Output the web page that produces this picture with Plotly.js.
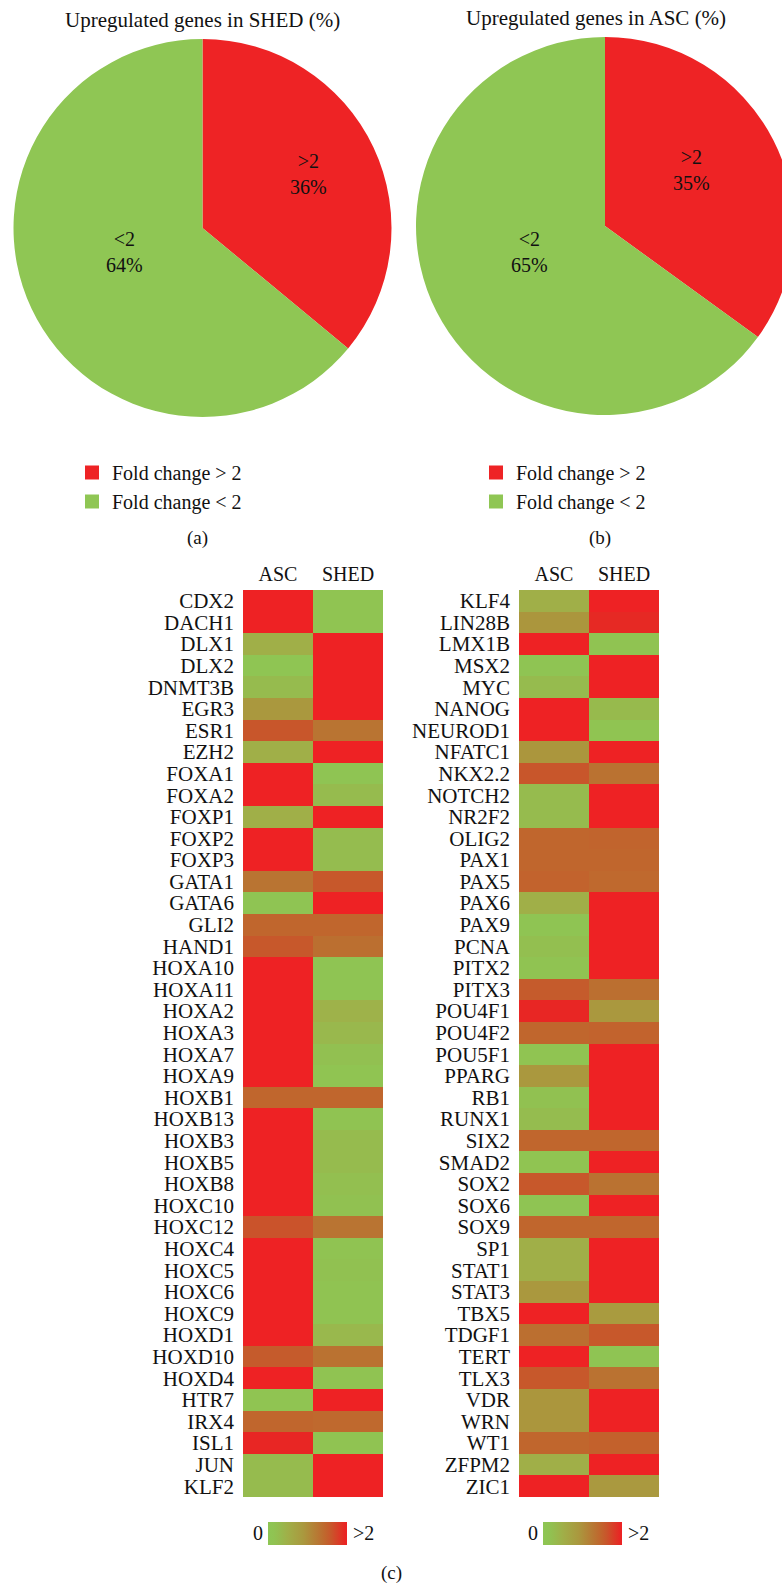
<!DOCTYPE html>
<html>
<head>
<meta charset="utf-8">
<script src="https://cdn.plot.ly/plotly-3.0.1.min.js"></script>
<style>
html, body { margin: 0; padding: 0; overflow: hidden; background: #fff; }
#chart { width: 800px; height: 1585px; }
</style>
</head>
<body>
<div id="chart"></div>
<script>
// ---------- DATA ----------
const pieLabels = ['Fold change > 2', 'Fold change < 2'];
const pieShort = ['>2', '<2'];
const shedPct = [36, 64];
const ascPct = [35, 65];

const conditions = ['ASC', 'SHED'];

const genesLeft = ['CDX2','DACH1','DLX1','DLX2','DNMT3B','EGR3','ESR1','EZH2','FOXA1','FOXA2',
  'FOXP1','FOXP2','FOXP3','GATA1','GATA6','GLI2','HAND1','HOXA10','HOXA11','HOXA2',
  'HOXA3','HOXA7','HOXA9','HOXB1','HOXB13','HOXB3','HOXB5','HOXB8','HOXC10','HOXC12',
  'HOXC4','HOXC5','HOXC6','HOXC9','HOXD1','HOXD10','HOXD4','HTR7','IRX4','ISL1','JUN','KLF2'];
const ascLeft = [2,2,0.5,0.05,0.3,0.9,1.6,0.5,2,2,
  0.5,2,2,1.3,0.08,1.45,1.58,2,2,2,
  2,2,2,1.45,2,2,2,2,2,1.62,
  2,2,2,2,2,1.55,2,0.12,1.45,1.95,0.3,0.3];
const shedLeft = [0.12,0.12,2,2,2,2,1.3,2,0.08,0.3,
  2,0.28,0.28,1.58,2,1.45,1.35,0.1,0.1,0.45,
  0.35,0.2,0.12,1.45,0.15,0.3,0.3,0.22,0.18,1.3,
  0.15,0.18,0.15,0.15,0.35,1.32,0.15,2,1.42,0.15,2,2];

const genesRight = ['KLF4','LIN28B','LMX1B','MSX2','MYC','NANOG','NEUROD1','NFATC1','NKX2.2','NOTCH2',
  'NR2F2','OLIG2','PAX1','PAX5','PAX6','PAX9','PCNA','PITX2','PITX3','POU4F1',
  'POU4F2','POU5F1','PPARG','RB1','RUNX1','SIX2','SMAD2','SOX2','SOX6','SOX9',
  'SP1','STAT1','STAT3','TBX5','TDGF1','TERT','TLX3','VDR','WRN','WT1','ZFPM2','ZIC1'];
const ascRight = [0.5,0.92,2,0.08,0.3,2,2,0.92,1.6,0.3,
  0.3,1.45,1.45,1.48,0.5,0.1,0.22,0.15,1.55,1.95,
  1.45,0.12,0.9,0.18,0.28,1.45,0.12,1.58,0.1,1.45,
  0.5,0.5,0.9,2,1.35,2,1.58,0.92,0.92,1.45,0.5,2];
const shedRight = [2,1.93,0.15,2,2,0.32,0.12,2,1.32,2,
  2,1.47,1.45,1.42,2,2,2,2,1.35,0.9,
  1.48,2,2,2,2,1.45,2,1.32,2,1.45,
  2,2,2,0.85,1.58,0.1,1.32,2,2,1.5,2,0.88];

const scaleTicks = ['0', '>2'];

// ---------- STYLE / LAYOUT ----------
const W = 800, H = 1585;
const px = x => x / W;
const py = y => 1 - y / H;
const FONT = '"Liberation Serif", "Times New Roman", serif';
const RED = 'rgb(238,35,37)';
const GREEN = 'rgb(143,198,84)';
const TXT = '#111111';

const cscale = [
  [0, 'rgb(142,198,84)'],
  [0.075, 'rgb(144,195,82)'],
  [0.15, 'rgb(150,187,78)'],
  [0.25, 'rgb(160,175,72)'],
  [0.45, 'rgb(170,152,62)'],
  [0.65, 'rgb(185,116,50)'],
  [0.725, 'rgb(192,102,45)'],
  [0.8, 'rgb(200,86,43)'],
  [0.975, 'rgb(232,38,36)'],
  [1, 'rgb(238,34,36)']
];

const zip = (a, b) => a.map((v, i) => [v, b[i]]);

const pieCommon = {
  type: 'pie',
  labels: pieLabels,
  textinfo: 'none',
  marker: {colors: [RED, GREEN], line: {width: 0}},
  sort: false,
  direction: 'clockwise',
  rotation: 0,
  hoverinfo: 'none',
  showlegend: false
};

const legendTrace = (i, leg) => ({
  type: 'scatter', mode: 'markers', x: [null], y: [null], xaxis: 'x', yaxis: 'y',
  name: pieLabels[i], legend: leg, showlegend: true, hoverinfo: 'none',
  marker: {symbol: 'square', size: 14, color: [RED, GREEN][i], line: {width: 0}}
});

const traces = [
  Object.assign({}, pieCommon, {
    values: shedPct,
    domain: {x: [px(13.5), px(391.5)], y: [py(417), py(39)]}
  }),
  Object.assign({}, pieCommon, {
    values: ascPct,
    domain: {x: [px(416), px(794)], y: [py(415), py(37)]}
  }),
  {
    type: 'heatmap',
    x: conditions, y: genesLeft, z: zip(ascLeft, shedLeft),
    xaxis: 'x', yaxis: 'y',
    zmin: 0, zmax: 2, colorscale: cscale,
    hoverinfo: 'none',
    showscale: true,
    colorbar: {orientation: 'h', x: px(268), xanchor: 'left', y: py(1545), yanchor: 'bottom',
      len: 79, lenmode: 'pixels', thickness: 23, thicknessmode: 'pixels',
      outlinewidth: 0, showticklabels: false, ticks: '', xpad: 0, ypad: 0}
  },
  {
    type: 'heatmap',
    x: conditions, y: genesRight, z: zip(ascRight, shedRight),
    xaxis: 'x2', yaxis: 'y2',
    zmin: 0, zmax: 2, colorscale: cscale,
    hoverinfo: 'none',
    showscale: true,
    colorbar: {orientation: 'h', x: px(543), xanchor: 'left', y: py(1545), yanchor: 'bottom',
      len: 79, lenmode: 'pixels', thickness: 23, thicknessmode: 'pixels',
      outlinewidth: 0, showticklabels: false, ticks: '', xpad: 0, ypad: 0}
  },
  legendTrace(0, 'legend'), legendTrace(1, 'legend'),
  legendTrace(0, 'legend2'), legendTrace(1, 'legend2')
];

const xAx = dom => ({domain: dom, type: 'category', side: 'top', showgrid: false, zeroline: false, showline: false,
  ticks: '', ticklabelstandoff: 4, tickmode: 'array', tickvals: conditions, ticktext: conditions,
  tickfont: {family: FONT, size: 20, color: TXT}, fixedrange: true});
const yAx = (dom, anchor, genes) => ({domain: dom, type: 'category', autorange: 'reversed', showgrid: false, zeroline: false, showline: false,
  ticks: '', ticklabelstandoff: 8, tickmode: 'array', tickvals: genes, ticktext: genes,
  tickfont: {family: FONT, size: 21, color: TXT}, fixedrange: true, anchor: anchor});

const legendBase = {
  yanchor: 'top', xanchor: 'left', bgcolor: 'rgba(0,0,0,0)', borderwidth: 0,
  font: {family: FONT, size: 20, color: TXT}, traceorder: 'normal'
};

const ann = (text, x, y, size, xanchor) => ({text: text, x: px(x), y: py(y), xref: 'paper', yref: 'paper',
  xanchor: xanchor || 'center', yanchor: 'middle', showarrow: false, font: {family: FONT, size: size, color: TXT}});

const pieText = (vals, i) => pieShort[i] + '<br>' + vals[i] + '%';

const layout = {
  width: W, height: H,
  margin: {l: 0, r: 0, t: 0, b: 0},
  paper_bgcolor: '#fff', plot_bgcolor: '#fff',
  showlegend: true,
  legend: Object.assign({}, legendBase, {x: px(72), y: py(453)}),
  legend2: Object.assign({}, legendBase, {x: px(476), y: py(453)}),
  xaxis: xAx([px(243), px(383)]),
  yaxis: yAx([py(1497), py(590)], 'x', genesLeft),
  xaxis2: Object.assign(xAx([px(519), px(659)]), {anchor: 'y2'}),
  yaxis2: yAx([py(1497), py(590)], 'x2', genesRight),
  annotations: [
    ann('Upregulated genes in SHED (%)', 202, 20, 21),
    ann('Upregulated genes in ASC (%)', 596, 18, 21),
    ann(pieText(shedPct, 0), 308, 174, 20),
    ann(pieText(shedPct, 1), 124, 252, 20),
    ann(pieText(ascPct, 0), 691, 170, 20),
    ann(pieText(ascPct, 1), 529, 252, 20),
    ann('(a)', 197, 538, 19),
    ann('(b)', 600, 538, 19),
    ann('(c)', 391, 1573, 19),
    ann(scaleTicks[0], 258, 1533, 20),
    ann(scaleTicks[1], 351, 1533, 20, 'left'),
    ann(scaleTicks[0], 533, 1533, 20),
    ann(scaleTicks[1], 626, 1533, 20, 'left')
  ]
};

Plotly.newPlot('chart', traces, layout, {staticPlot: true, displayModeBar: false});
</script>
</body>
</html>
